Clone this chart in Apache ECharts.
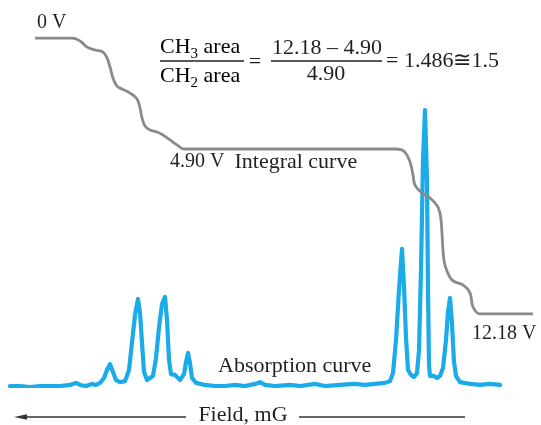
<!DOCTYPE html>
<html>
<head>
<meta charset="utf-8">
<script src="https://cdn.jsdelivr.net/npm/echarts@6/dist/echarts.min.js"></script>
<style>
  html, body { margin: 0; padding: 0; background: #ffffff; }
  #chart { width: 541px; height: 425px; }
</style>
</head>
<body>
<div id="chart"></div>
<script>
// Sweep position (arbitrary field units, field decreasing to the left)
const absorptionField = [
  0, 2, 4, 6, 8, 10, 12, 13.2, 14, 15.2, 16.4, 17.2, 18, 18.8, 19.4, 20, 20.6, 21.2, 22, 23,
  23.8, 24.4, 25, 25.6, 26, 26.4, 26.8, 27.4, 28, 28.6, 29.2, 29.8, 30.4, 31, 31.4, 31.8, 32.2,
  33, 34, 34.8, 35.2, 35.6, 36, 36.4, 37.2, 39, 41, 43, 45, 47, 49, 50, 51, 53, 56, 58, 61, 63,
  66, 69, 71, 73, 75, 76, 76.6, 77.2, 77.8, 78.4, 78.8, 79.2, 79.6, 80.2, 80.8, 81.4, 81.8, 82.2,
  82.6, 83, 83.4, 83.6, 83.8, 84, 84.8, 85.4, 86, 86.6, 87.2, 87.6, 88, 88.4, 88.8, 89.2, 90, 92,
  94, 96, 98
];
// Absorption signal (relative units)
const absorptionSignal = [
  0, 0, -0.3, 0, 0, 0, 0.3, 0.9, 0.3, 0, 0.6, 0.3, 0.9, 2.3, 4.6, 6.3, 4.0, 1.7, 1.1, 1.4,
  4.6, 12.5, 20.4, 25.0, 21.0, 12.5, 4.0, 1.7, 2.3, 2.9, 8.0, 16.8, 23.5, 25.6, 19.0, 7.5, 3.4,
  3.2, 1.7, 3.4, 6.9, 9.5, 6.5, 2.3, 0.9, 0.3, 0, 0, 0.3, 0, 0.6, 1.1, 0.3, 0, 0.3, 0, 0.6, 0,
  0.3, 0.6, 0.3, 0.6, 0.9, 1.4, 3.7, 13.2, 27.6, 39.4, 28.5, 14.0, 4.6, 3.2, 2.6, 3.7, 10.3, 33.3,
  64.9, 79.3, 59.2, 27.6, 6.0, 2.9, 2.9, 2.3, 2.9, 5.2, 13.2, 21.3, 25.3, 18.0, 6.9, 2.9, 1.1, 0.6,
  0.3, 0.6, 0.3
];

// Integrator output (volts, drawn increasing downward)
const integralField = [
  5.0, 12.4, 14.0, 15.4, 17.0, 18.6, 19.4, 20.0, 20.6, 21.4, 22.4, 24.0, 25.4, 26.0, 26.4, 27.0,
  28.0, 29.4, 30.6, 32.0, 33.4, 34.8, 58.0, 77.2, 78.8, 80.0, 80.6, 81.0, 82.2, 84.0, 85.6, 86.2,
  86.6, 87.0, 88.4, 90.6, 92.0, 92.6, 94.0, 104.6
];
const integralVolts = [
  0, 0, 0.13, 0.40, 0.53, 0.62, 0.88, 1.28, 1.77, 2.12, 2.25, 2.43, 2.69, 3.09, 3.53, 3.88,
  4.06, 4.15, 4.28, 4.50, 4.72, 4.90, 4.90, 4.90, 5.00, 5.47, 6.05, 6.49, 6.80, 7.06, 7.46, 8.03,
  9.36, 10.02, 10.68, 10.90, 11.25, 11.87, 12.18, 12.18
];

// Integral plateau readings and where their labels sit along the sweep
const plateauVolts = [0, 4.90, 12.18];
const plateauField = [5.4, 32.0, 92.4];
const plateauCaption = ['', 'Integral curve', ''];

// Ratio worked out from the plateaus
const ratioNumerator = '12.18 \u2013 4.90';
const ratioDenominator = '4.90';
const ratioResult = '= 1.486\u22451.5';

const serif = '"Liberation Serif", "DejaVu Serif", serif';
const ink = '#231f20';

const fmtVolts = v => (v === 0 ? '0' : v.toFixed(2)) + ' V';

const chart = echarts.init(document.getElementById('chart'), null, { renderer: 'canvas' });

const textStyle = (extra) => Object.assign({
  fill: ink,
  font: '22px ' + serif
}, extra);

const subRich = {
  t: { fontFamily: serif, fontSize: 22, color: ink },
  s: { fontFamily: serif, fontSize: 15, color: ink, padding: [14, 0, 0, 0] }
};

chart.setOption({
  animation: false,
  backgroundColor: '#ffffff',
  grid: { left: 10, width: 530, top: 38, height: 348, containLabel: false },
  xAxis: { type: 'value', min: 0, max: 106, show: false },
  yAxis: [
    { type: 'value', min: 0, max: 100, show: false },
    { type: 'value', min: 0, max: 15.36, inverse: true, show: false }
  ],
  series: [
    {
      name: 'Absorption curve',
      type: 'line',
      yAxisIndex: 0,
      showSymbol: false,
      symbol: 'none',
      data: absorptionField.map((x, i) => [x, absorptionSignal[i]]),
      lineStyle: { color: '#1aabe8', width: 4.2, join: 'round', cap: 'round' },
      z: 2
    },
    {
      name: 'Integral curve',
      type: 'line',
      yAxisIndex: 1,
      showSymbol: false,
      symbol: 'none',
      smooth: 0.4,
      data: integralField.map((x, i) => [x, integralVolts[i]]),
      lineStyle: { color: '#8a8a8a', width: 2.8, join: 'round' },
      z: 3,
      markPoint: {
        symbol: 'circle',
        symbolSize: 0,
        silent: true,
        label: {
          show: true,
          position: 'right',
          distance: 0,
          color: ink,
          fontFamily: serif,
          fontSize: 20,
          rich: {
            c: { fontFamily: serif, fontSize: 22, color: ink, padding: [0, 0, 0, 10] }
          }
        },
        data: plateauVolts.map((v, i) => ({
          coord: [plateauField[i], v],
          value: v,
          label: {
            formatter: fmtVolts(v) + (plateauCaption[i] ? '{c|' + plateauCaption[i] + '}' : ''),
            offset: i === 0 ? [0, -15] : (i === 1 ? [0, 13] : [0, 20])
          }
        }))
      }
    }
  ],
  graphic: [
    // CH3 / CH2 fraction
    {
      type: 'text', left: 160, top: 36,
      style: { text: '{t|CH}{s|3}{t| area}', rich: subRich }
    },
    {
      type: 'line', shape: { x1: 160, y1: 61, x2: 244, y2: 61 },
      style: { stroke: ink, lineWidth: 1.4 }
    },
    {
      type: 'text', left: 160, top: 65,
      style: { text: '{t|CH}{s|2}{t| area}', rich: subRich }
    },
    {
      type: 'text', x: 255, y: 62,
      style: textStyle({ text: '=', textAlign: 'center', textVerticalAlign: 'middle' })
    },
    // numeric fraction
    {
      type: 'text', x: 327, y: 48,
      style: textStyle({ text: ratioNumerator, textAlign: 'center', textVerticalAlign: 'middle' })
    },
    {
      type: 'line', shape: { x1: 271, y1: 61, x2: 382, y2: 61 },
      style: { stroke: ink, lineWidth: 1.4 }
    },
    {
      type: 'text', x: 326, y: 74,
      style: textStyle({ text: ratioDenominator, textAlign: 'center', textVerticalAlign: 'middle' })
    },
    {
      type: 'text', x: 386, y: 61,
      style: textStyle({ text: ratioResult, textAlign: 'left', textVerticalAlign: 'middle' })
    },
    // curve caption
    {
      type: 'text', x: 218, y: 366,
      style: { text: 'Absorption curve', fill: ink, font: '22px ' + serif, textAlign: 'left', textVerticalAlign: 'middle' }
    },
    // field direction arrow
    {
      type: 'line', shape: { x1: 24, y1: 417, x2: 186, y2: 417 },
      style: { stroke: '#333333', lineWidth: 1.3 }
    },
    {
      type: 'polygon', shape: { points: [[14, 417], [27, 414.3], [27, 419.7]] },
      style: { fill: '#333333' }
    },
    {
      type: 'text', x: 243, y: 415,
      style: { text: 'Field, mG', fill: ink, font: '22px ' + serif, textAlign: 'center', textVerticalAlign: 'middle' }
    },
    {
      type: 'line', shape: { x1: 299, y1: 417, x2: 465, y2: 417 },
      style: { stroke: '#333333', lineWidth: 1.3 }
    }
  ]
});
</script>
</body>
</html>
